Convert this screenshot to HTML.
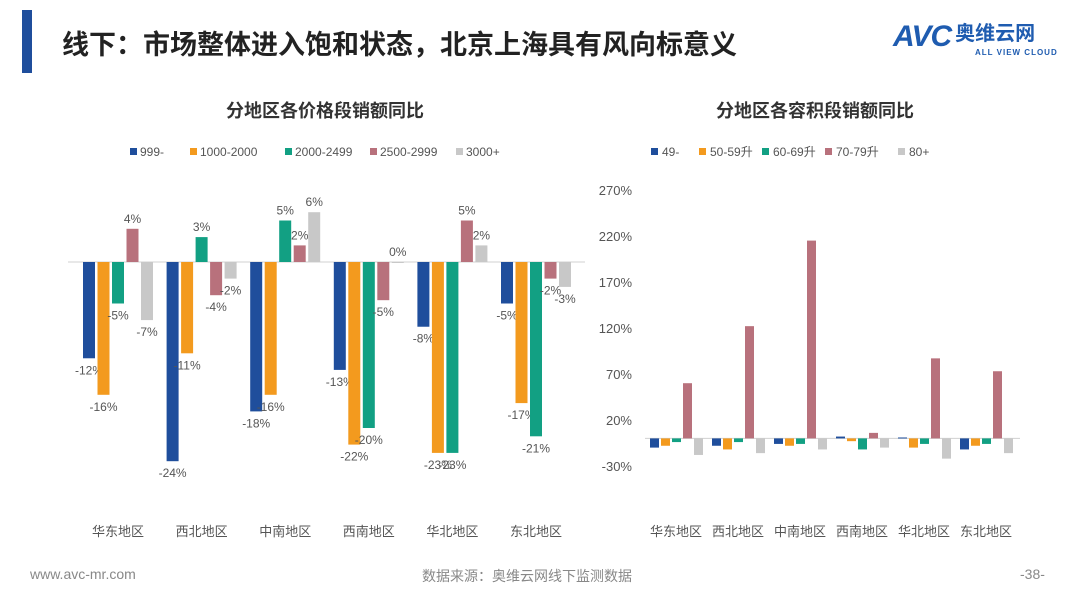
<!DOCTYPE html>
<html><head><meta charset="utf-8"><style>
body{margin:0;width:1080px;height:608px;background:#fff;overflow:hidden;font-family:"Liberation Sans","Noto Sans CJK SC",sans-serif;position:relative}
.abs{position:absolute}
</style></head><body>
<div class="abs" style="left:22px;top:10px;width:10px;height:63px;background:#1f4e9c"></div>
<div class="abs" style="left:62px;top:23px;font-size:27px;font-weight:bold;color:#222">线下：市场整体进入饱和状态，北京上海具有风向标意义</div>
<div class="abs" style="left:893px;top:20px;">
<span style="font-size:30px;font-weight:bold;font-style:italic;color:#1f5cb0;letter-spacing:-1px">AVC</span><span style="font-size:20px;font-weight:bold;color:#1f5cb0;position:relative;top:-6px;margin-left:4px">奥维云网</span>
<div style="position:absolute;left:82px;top:28px;font-size:8px;font-weight:bold;color:#1f5cb0;letter-spacing:1px;white-space:nowrap">ALL VIEW CLOUD</div></div>
<svg class="abs" style="left:0;top:0" width="1080" height="608" id="svg"></svg>
<div class="abs" style="left:30px;top:566px;font-size:14px;color:#888">www.avc-mr.com</div>
<div class="abs" style="left:422px;top:566px;font-size:14px;color:#888">数据来源：奥维云网线下监测数据</div>
<div class="abs" style="left:1020px;top:566px;font-size:14px;color:#888">-38-</div>
<script>
const regions=["华东地区","西北地区","中南地区","西南地区","华北地区","东北地区"];
const priceSeries=["999-","1000-2000","2000-2499","2500-2999","3000+"];
const p999=[-11.6,-24,-18,-13,-7.8,-5];
const p1000=[-16,-11,-16,-22,-23,-17];
const p2000=[-5,3,5,-20,-23,-21];
const p2500=[4,-4,2,-4.6,5,-2];
const p3000=[-7,-2,6,0,2,-3];
const volSeries=["49-","50-59升","60-69升","70-79升","80+"];
const v49=[-10,-8,-6,2,1,-12];
const v50=[-8,-12,-8,-3,-10,-8];
const v60=[-4,-4,-6,-12,-6,-6];
const v70=[60,122,215,6,87,73];
const v80=[-18,-16,-12,-10,-22,-16];
const volTicks=[-30,20,70,120,170,220,270];
const colors=["#1f4e9c","#f39a1e","#12a083","#b8717c","#c8c8c8"];
const NS="http://www.w3.org/2000/svg";
const svg=document.getElementById('svg');
function mk(t,a,txt){const e=document.createElementNS(NS,t);for(const k in a)e.setAttribute(k,a[k]);if(txt!==undefined)e.textContent=txt;svg.appendChild(e);return e;}
// left chart
const yL=v=>262-v*8.3;
const xL=(g,s)=>83+g*83.6+s*14.5;
let t=mk('text',{x:325,y:117,'text-anchor':'middle','font-size':18,'font-weight':'bold',fill:'#333'},'分地区各价格段销额同比');

let l=mk('line',{x1:68,x2:585,y1:262,y2:262,stroke:'#d0d0d0'});

const lx=[130,190,285,370,456];
priceSeries.forEach((s,i)=>{
 let r=mk('rect',{x:lx[i],y:148,width:7,height:7,fill:colors[i]});
 
 let tt=mk('text',{x:lx[i]+10,y:156,'font-size':12,fill:'#555'},s);
 
});
[p999,p1000,p2000,p2500,p3000].forEach((arr,s)=>{
 arr.forEach((v,g)=>{
  const x=xL(g,s),y0=yL(0),y1=yL(v);
  let r=mk('rect',{x:x,y:Math.min(y0,y1),width:12,height:Math.max(Math.abs(y1-y0),1),fill:colors[s]});
  
  const ly=v>=0?y1-6:y1+16;
  let tt=mk('text',{x:x+6,y:ly,'text-anchor':'middle','font-size':12,fill:'#555'},Math.round(v)+'%');
  
 });
});
regions.forEach((r,g)=>{
 let tt=mk('text',{x:xL(g,2)+6,y:536,'text-anchor':'middle','font-size':13,fill:'#555'},r);
 
});
// right chart
const yR=v=>466-(v+30)*0.92;
const xR=(g,s)=>650+g*62+s*11;
t=mk('text',{x:815,y:117,'text-anchor':'middle','font-size':18,'font-weight':'bold',fill:'#333'},'分地区各容积段销额同比');

volTicks.forEach(v=>{
 let tt=mk('text',{x:632,y:yR(v)+5,'text-anchor':'end','font-size':13,fill:'#555'},v+'%');
 
});
l=mk('line',{x1:645,x2:1020,y1:yR(0),y2:yR(0),stroke:'#d0d0d0'});

const rx=[651,699,762,825,898];
volSeries.forEach((s,i)=>{
 let r=mk('rect',{x:rx[i],y:148,width:7,height:7,fill:colors[i]});
 
 let tt=mk('text',{x:rx[i]+11,y:156,'font-size':12,fill:'#555'},s);
 
});
[v49,v50,v60,v70,v80].forEach((arr,s)=>{
 arr.forEach((v,g)=>{
  const x=xR(g,s),y0=yR(0),y1=yR(v);
  let r=mk('rect',{x:x,y:Math.min(y0,y1),width:9,height:Math.max(Math.abs(y1-y0),1),fill:colors[s]});
  
 });
});
regions.forEach((r,g)=>{
 let tt=mk('text',{x:xR(g,2)+4,y:536,'text-anchor':'middle','font-size':13,fill:'#555'},r);
 
});
</script>
</body></html>
